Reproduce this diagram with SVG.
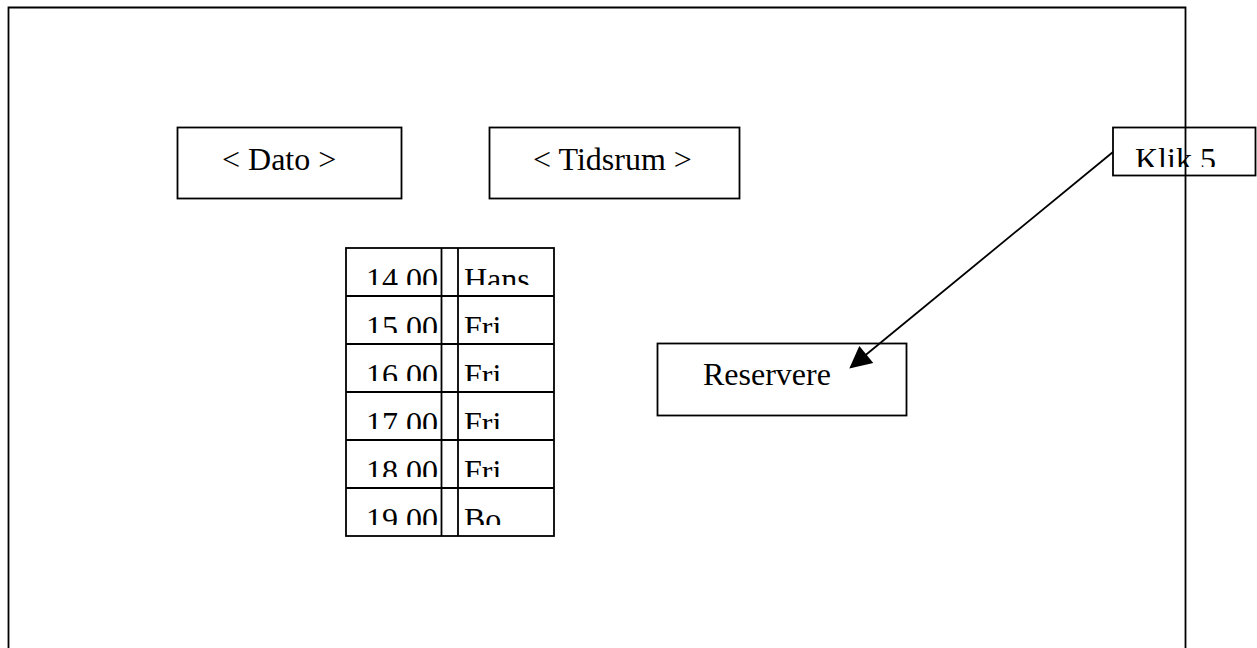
<svg xmlns="http://www.w3.org/2000/svg" width="1257" height="648" viewBox="0 0 1257 648">
<style>
.box{fill:#fff;stroke:#000;stroke-width:1.8}
.ln{fill:none;stroke:#000;stroke-width:1.8}
.t{font-family:"Liberation Serif","Times New Roman",serif;font-size:32px;fill:#000}
</style>
<defs>
<marker id="ah" viewBox="0 0 10 10" refX="9" refY="5" markerWidth="24" markerHeight="22" markerUnits="userSpaceOnUse" orient="auto">
<path d="M0,0 L10,5 L0,10 z" fill="#000"/>
</marker>
<clipPath id="c1"><rect x="346" y="248" width="208" height="37"/></clipPath>
<clipPath id="c2"><rect x="346" y="296" width="208" height="37"/></clipPath>
<clipPath id="c3"><rect x="346" y="344" width="208" height="37"/></clipPath>
<clipPath id="c4"><rect x="346" y="392" width="208" height="37"/></clipPath>
<clipPath id="c5"><rect x="346" y="440" width="208" height="37"/></clipPath>
<clipPath id="c6"><rect x="346" y="488" width="208" height="37"/></clipPath>
<clipPath id="ck"><rect x="1113" y="127" width="144" height="40"/></clipPath>
</defs>
<rect width="1257" height="648" fill="#fff"/>
<g id="dato">
<rect class="box" x="177.5" y="127.5" width="224" height="71"/>
<text class="t" x="222" y="170">&lt; Dato &gt;</text>
</g>
<g id="tidsrum">
<rect class="box" x="489.5" y="127.5" width="250" height="71"/>
<text class="t" x="533" y="170">&lt; Tidsrum &gt;</text>
</g>
<g id="reservere">
<rect class="box" x="657.5" y="343.5" width="249" height="72"/>
<text class="t" x="703" y="385">Reservere</text>
</g>
<g id="klik">
<rect class="box" x="1113" y="127.5" width="142.5" height="48"/>
<text class="t" x="1135" y="170" clip-path="url(#ck)">Klik 5</text>
</g>
<g id="frame">
<path class="ln" d="M8.5,660 V7.5 H1185.5 V660"/>
</g>
<g id="table">
<rect class="box" x="346" y="248" width="208" height="288"/>
<path class="ln" d="M346,296 H554 M346,344 H554 M346,392 H554 M346,440 H554 M346,488 H554 M441.5,248 V536 M458,248 V536"/>
<g clip-path="url(#c1)"><text class="t" x="366" y="290">14.00</text><text class="t" x="464" y="290">Hans</text></g>
<g clip-path="url(#c2)"><text class="t" x="366" y="338">15.00</text><text class="t" x="464" y="338">Fri</text></g>
<g clip-path="url(#c3)"><text class="t" x="366" y="386">16.00</text><text class="t" x="464" y="386">Fri</text></g>
<g clip-path="url(#c4)"><text class="t" x="366" y="434">17.00</text><text class="t" x="464" y="434">Fri</text></g>
<g clip-path="url(#c5)"><text class="t" x="366" y="482">18.00</text><text class="t" x="464" y="482">Fri</text></g>
<g clip-path="url(#c6)"><text class="t" x="366" y="530">19.00</text><text class="t" x="464" y="530">Bo</text></g>
</g>
<g id="connectors">
<line class="ln" x1="1113" y1="152" x2="851" y2="367" marker-end="url(#ah)"/>
</g>
</svg>
